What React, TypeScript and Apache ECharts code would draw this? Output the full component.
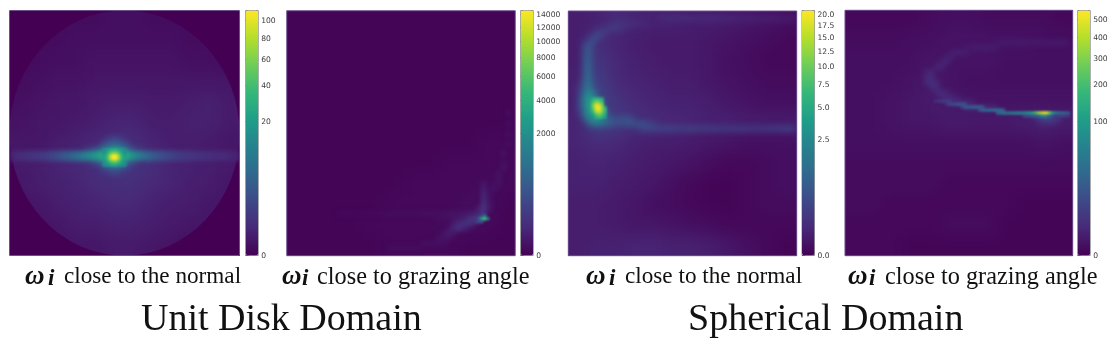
import React, { useEffect, useRef } from "react";
import * as echarts from "echarts";

const VIRIDIS = ["#440154","#482878","#3e4989","#31688e","#26828e","#1f9e89","#35b779","#6ece58","#b5de2b","#fde725"];
const GAMMA = 0.35;

// Colourbar ticks and the top of each colourbar
const ticks1 = [0, 20, 40, 60, 80, 100];
const ticks2 = [0, 2000, 4000, 6000, 8000, 10000, 12000, 14000];
const ticks3 = [0, 2.5, 5, 7.5, 10, 12.5, 15, 17.5, 20];
const ticks4 = [0, 100, 200, 300, 400, 500];
const maxima = [112.7, 14680, 20.96, 557];

// Captions
const captionNormal = "close to the normal";
const captionGrazing = "close to grazing angle";
const titleDisk = "Unit Disk Domain";
const titleSphere = "Spherical Domain";

// All cell values below are positions on the colourbar, in percent.
// Broad field of each panel, 12 x 12
const field1 = [
  [2,2,3,3,3,4,4,3,3,3,2,2],
  [3,3,3,4,4,4,4,4,4,3,3,3],
  [3,3,4,4,5,5,5,5,5,4,4,3],
  [3,4,5,5,6,6,6,6,6,6,6,6],
  [4,5,6,6,7,8,8,7,7,8,9,7],
  [5,6,6,7,8,10,10,8,8,9,9,7],
  [6,6,8,9,11,13,13,10,8,8,7,6],
  [7,8,10,11,13,15,15,13,10,9,8,7],
  [6,8,9,10,12,13,13,11,10,8,8,6],
  [6,6,8,9,10,11,11,9,8,8,6,6],
  [4,5,6,8,8,9,9,8,7,6,6,5],
  [3,3,5,6,6,7,7,6,5,4,3,3],
];
const field2 = [
  [1,1,1,1,1,1,1,1,1,1,1,1],
  [1,1,1,1,1,1,1,1,1,1,1,1],
  [1,1,1,1,1,1,1,1,1,1,1,1],
  [1,1,1,1,1,1,1,1,1,1,1,1],
  [1,1,1,1,1,1,1,1,1,1,1,1],
  [1,1,1,1,1,1,1,1,1,1,1,1],
  [1,1,1,1,1,1,1,1,1,1,2,2],
  [1,1,1,1,1,1,1,1,2,2,2,2],
  [1,1,1,1,1,1,2,2,2,2,3,2],
  [1,1,1,1,1,2,2,2,2,3,3,1],
  [1,1,1,1,2,2,2,2,3,3,2,1],
  [1,1,1,1,1,2,2,2,2,1,1,1],
];
const field3 = [
  [8,9,12,10,9,9,8,8,7,6,5,4],
  [8,14,10,8,7,7,7,6,5,4,3,2],
  [8,16,11,9,8,7,7,6,4,3,2,2],
  [9,20,12,10,9,8,8,6,5,4,3,3],
  [9,24,15,12,10,9,9,8,6,5,4,4],
  [10,20,17,14,12,11,10,9,9,8,8,8],
  [10,12,11,9,8,8,7,6,5,4,4,4],
  [9,10,9,8,7,6,5,3,2,2,3,4],
  [9,9,8,7,6,4,2,1,1,2,3,4],
  [8,8,7,6,4,3,2,1,1,2,3,3],
  [8,8,7,6,6,5,4,3,2,2,2,2],
  [8,9,9,10,10,9,9,8,6,4,2,1],
];
const field4 = [
  [2,2,2,2,3,4,4,3,3,3,3,2],
  [3,3,3,4,4,5,5,5,5,5,4,4],
  [4,4,4,4,6,5,5,5,4,4,4,4],
  [4,4,4,5,7,5,4,4,4,4,4,4],
  [4,4,5,6,7,7,6,5,5,5,5,5],
  [4,4,5,6,6,7,7,7,7,8,9,8],
  [4,4,4,4,4,4,4,4,4,4,5,4],
  [3,3,3,3,3,3,3,3,3,3,3,3],
  [3,3,3,3,3,2,2,2,2,2,2,2],
  [3,3,2,2,2,2,2,2,2,1,1,1],
  [2,2,2,2,2,3,3,3,1,1,1,1],
  [2,2,2,1,1,1,1,1,1,1,1,1],
];

// Narrow features on a 46 x 49 grid: [row, first column, values]
const band1 = [10,12,13,14,15,16,17,19,21,23,26,29,32,36,40,45,50,55,60,65,68,68,65,58,50,44,38,33,29,26,24,22,20,18,17,16,15,14,14,13,13,12,12,11,10,9];
const halo1 = [14,18,24,32,40,46,46,40,30,22,16,13];
const mid1 = [
  [25,19,[16,20,20,16]],
  [26,18,[20,26,30,30,26,20]],
  [27,15,halo1],
  [28,0,band1],
  [29,0,band1],
  [30,15,halo1],
  [31,18,[20,26,30,30,26,20]],
  [32,19,[16,20,20,16]],
];
const mid2 = [
  [20,44,[4]],[22,44,[4]],[24,44,[4]],[26,44,[4]],[28,43,[5]],[30,43,[5]],[31,43,[5]],[32,42,[5]],[33,42,[5]],
  [34,39,[6,null,null,5]],[35,39,[8,null,5]],[36,39,[10,5]],[37,39,[12,5]],[38,39,[14,6]],[39,38,[8,16,8]],
  [40,10,[2,2,2,2,2,2,2,2,3,3,3,3,3,3,3,3,3,4,4,4,4,4,5,5,5,6,7,8,10,15]],
  [41,30,[4,4,4,5,6,8,11,15,20]],
  [42,33,[7,11,13,15,12]],
  [43,32,[6,11,13,10,6]],
  [44,31,[6,8,6]],
  [45,30,[5,5,5]],
  [46,27,[4,4,4,4,4]],
  [47,20,[3,3,3,3,3,3,3]],
];
const mid3 = [
  [1,18,[11,12,13,13,13,13,13,13,12,12,12,12,12,11,11,11,10,10,10,10,9,9,9,9,9,8,8,8]],
  [2,9,[15,16,15,14,13,12,11,10]],
  [3,6,[11,16,19,18,15,12]],
  [4,4,[10,20,22,18,12]],
  [5,3,[10,20,24,20,11]],
  [6,3,[20,26,20,10]],
  [7,3,[26,26]],
  [8,3,[27,27]],
  [9,3,[28,28]],
  [10,3,[29,29]],
  [11,3,[30,30]],
  [12,3,[31,31]],
  [13,3,[32,34]],
  [14,2,[14,34,36,18]],
  [15,2,[18,38,40,24]],
  [16,2,[20,42,48,34,14]],
  [17,2,[24,48,56,46,28,16]],
  [18,2,[24,46,58,58,40,22,14]],
  [19,2,[22,46,58,62,48,26,16]],
  [20,2,[18,42,54,60,52,32,20,14]],
  [21,3,[34,46,52,46,34,28,24,24,26,24]],
  [22,4,[34,42,44,38,30,26,24,26,28,28,26,24,20,16]],
  [23,14,[20,22,23,23,22,22,22,21,21,21,21,21,21,20,20,20,19,19,19,19,19,19,18,18,18,18,19,19,20,21,21,21,22,22,22]],
];
const mid4 = [
  [6,30,[6,7,7,7,7,7,7,7,7,7,7,7,7,7,7]],
  [7,24,[7,7,8,8,8,8,7]],
  [8,21,[8,9,9,8]],
  [9,20,[9,9]],
  [10,19,[9,10]],
  [11,18,[10,10]],
  [12,16,[10,11]],
  [13,16,[11,12]],
  [14,16,[12,13,11]],
  [15,17,[12,12]],
  [16,18,[11,12,10]],
  [17,19,[11,12,11,9]],
  [18,21,[12,13,13,12,10]],
  [19,24,[12,13,12,12,11,11,10]],
  [21,38,[16,20,24,24,18,14]],
  [22,39,[12,14,14,12]],
];

// Sharpest features on a 77 x 82 grid: [row, first column, values]
const fine1 = [
  [46,31,[48,52,58,62,62,58,52,48]],
  [47,31,[50,58,70,78,78,70,58,50]],
  [48,31,[55,65,85,100,100,85,65,55]],
  [49,31,[55,65,85,100,100,85,65,55]],
  [50,31,[50,58,70,78,78,70,58,50]],
  [51,31,[48,52,56,60,60,56,52,48]],
];
const fine2 = [
  [68,65,[20,30]],
  [69,63,[14,25,55,70,40]],
  [70,63,[16,22,25]],
];
const fine3 = [
  [29,8,[62,66,66,60]],
  [30,8,[70,80,78,68]],
  [31,8,[78,94,94,80]],
  [32,8,[76,96,100,86,66]],
  [33,8,[68,90,96,84,68]],
  [34,9,[74,82,76,62]],
  [35,9,[62,68,66,56]],
];
const fine4 = [
  [30,30,[12,14,16,18,18,18]],
  [31,34,[16,20,22,24,26,26,24]],
  [32,39,[20,26,28,28,30,30,30,26]],
  [33,45,[24,30,31,32,32,34,34,34,28]],
  [34,51,[28,34,36,36,36,38,40,42,44,46,50,54,60,72,85,92,100,92,70,50,40,36,34,32,28]],
  [35,60,[20,22,24,26,28,32,44,46,38,28,20,18,18,18,16,16]],
];

const panels = [
  { x: 9.5, y: 10.5, w: 230, h: 245, field: field1, mid: mid1, fine: fine1, disk: true, midBlur: 2.2, fineBlur: 0.8 },
  { x: 286.7, y: 10.7, w: 228.6, h: 245, field: field2, mid: mid2, fine: fine2, disk: false, midBlur: 2.2, fineBlur: 0.8 },
  { x: 568.3, y: 11, w: 228.4, h: 244.7, field: field3, mid: mid3, fine: fine3, disk: false, midBlur: 3, fineBlur: 1.2 },
  { x: 845, y: 10.3, w: 227.7, h: 245.4, field: field4, mid: mid4, fine: fine4, disk: false, midBlur: 2.4, fineBlur: 1.2 },
];
const bars = [
  { x: 245.7, ticks: ticks1, digits: 0 },
  { x: 520.7, ticks: ticks2, digits: 0 },
  { x: 802, ticks: ticks3, digits: 1 },
  { x: 1077.7, ticks: ticks4, digits: 0 },
];

const indexList = (n: number) => Array.from({ length: n }, (_, i) => String(i));

function heatOption(cols: number, rows: number, data: any[]) {
  return {
    animation: false,
    grid: { left: 0, right: 0, top: 0, bottom: 0 },
    xAxis: { type: "category", show: false, data: indexList(cols) },
    yAxis: { type: "category", show: false, inverse: true, data: indexList(rows) },
    visualMap: { show: false, min: 0, max: 100, dimension: 2, inRange: { color: VIRIDIS } },
    series: [{ type: "heatmap", data, itemStyle: { borderWidth: 0 }, emphasis: { disabled: true } }],
  };
}
// Outer cells are repeated once so that the blur has something to read past the panel's edge
function fieldCells(rows: number[][]) {
  const padded = [rows[0], ...rows, rows[rows.length - 1]].map((r) => [r[0], ...r, r[r.length - 1]]);
  const out: number[][] = [];
  padded.forEach((r, y) => r.forEach((v, x) => out.push([x, y, v])));
  return out;
}
function stripCells(strips: any[]) {
  const out: number[][] = [];
  strips.forEach(([row, col, vals]: any) =>
    vals.forEach((v: number | null, i: number) => { if (v !== null) out.push([col + i, row, v]); })
  );
  return out;
}

function Chart({ option, style }: { option: any; style: React.CSSProperties }) {
  const ref = useRef<HTMLDivElement>(null);
  useEffect(() => {
    const chart = echarts.init(ref.current!, undefined, { renderer: "svg" });
    chart.setOption(option);
    return () => chart.dispose();
  }, []);
  return <div ref={ref} style={style} />;
}

function captionTexts() {
  const serif = "'Liberation Serif', serif";
  const caption = (omegaX: number, iX: number, x: number, text: string, size: number) => [
    { type: "text", x: omegaX, y: 261, style: { text: "ω", font: `italic bold 27px ${serif}`, fill: "#111" } },
    { type: "text", x: iX, y: 266, style: { text: "i", font: `italic bold 23px ${serif}`, fill: "#111" } },
    { type: "text", x, y: 263, style: { text, font: `${size}px ${serif}`, fill: "#111" } },
  ];
  const title = (x: number, text: string) => ({
    type: "text", x, y: 298, style: { text, font: `38px ${serif}`, fill: "#111" },
  });
  return [
    ...caption(25, 48, 64, captionNormal, 23.2),
    ...caption(282, 302, 317, captionGrazing, 24.3),
    ...caption(586, 609, 625, captionNormal, 23.2),
    ...caption(848, 869, 885, captionGrazing, 24.3),
    title(141, titleDisk),
    title(688, titleSphere),
  ];
}

function overlayOption() {
  const top = 10.5, height = 245, width = 12.5;
  const pos = (v: number, m: number) => 100 * Math.pow(v / m, GAMMA);
  const tickLists = bars.map((b, i) => b.ticks.map((t) => pos(t, maxima[i])));
  const frames = panels.map((p) => ({
    type: "rect",
    shape: { x: p.x, y: p.y, width: p.w, height: p.h },
    style: { fill: "none", stroke: "#6d4f8c", lineWidth: 1 },
  }));
  return {
    animation: false,
    grid: bars.map((b) => ({ left: b.x, top, width, height, show: true, backgroundColor: "transparent", borderColor: "#8a8a8a", borderWidth: 1 })),
    visualMap: bars.map((b) => ({
      type: "continuous", show: true, left: b.x, top, itemWidth: width, itemHeight: height, padding: 0,
      min: 0, max: 100, calculable: false, seriesIndex: [], inRange: { color: VIRIDIS },
    })),
    xAxis: bars.map((_, i) => ({ type: "value", gridIndex: i, min: 0, max: 1, show: false })),
    yAxis: bars.map((b, i) => ({
      type: "value", gridIndex: i, min: 0, max: 100, position: "right",
      splitLine: { show: false }, axisLine: { show: false },
      axisTick: { show: true, length: 3, customValues: tickLists[i], lineStyle: { color: "#555", width: 1 } },
      axisLabel: {
        show: true, margin: 3, fontSize: 7.6, fontFamily: "DejaVu Sans", color: "#3a3a3a", customValues: tickLists[i],
        formatter: (v: number) => {
          const k = tickLists[i].findIndex((t) => Math.abs(t - v) < 1e-6);
          return k < 0 ? "" : b.ticks[k].toFixed(b.digits);
        },
      },
    })),
    graphic: [...frames, ...captionTexts()],
  };
}

export default function App() {
  useEffect(() => { document.body.style.margin = "0"; document.body.style.background = "#fff"; }, []);
  const full: React.CSSProperties = { position: "absolute", left: 0, top: 0, width: "100%", height: "100%" };
  return (
    <div style={{ position: "relative", width: 1115, height: 354, overflow: "hidden", background: "#fff" }}>
      {panels.map((p, i) => {
        const cw = p.w / 12, ch = p.h / 12;
        return (
          <div key={i} style={{ position: "absolute", left: p.x, top: p.y, width: p.w, height: p.h, overflow: "hidden", background: "#440154" }}>
            <div style={{ ...full, clipPath: p.disk ? "ellipse(50% 50% at 50% 50%)" : undefined }}>
              <Chart
                option={heatOption(14, 14, fieldCells(p.field))}
                style={{ position: "absolute", left: -cw, top: -ch, width: p.w + 2 * cw, height: p.h + 2 * ch, filter: "blur(8px)" }}
              />
            </div>
            <Chart option={heatOption(46, 49, stripCells(p.mid))} style={{ ...full, filter: `blur(${p.midBlur}px)` }} />
            <Chart option={heatOption(77, 82, stripCells(p.fine))} style={{ ...full, filter: `blur(${p.fineBlur}px)` }} />
          </div>
        );
      })}
      <Chart option={overlayOption()} style={{ ...full, filter: "blur(0.3px)" }} />
    </div>
  );
}
